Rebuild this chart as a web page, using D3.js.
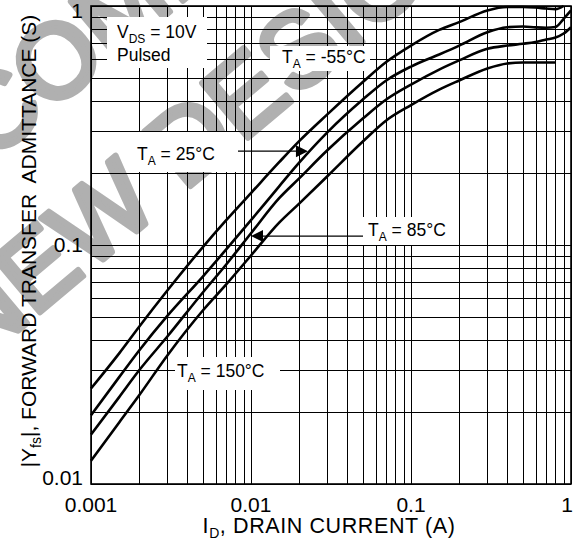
<!DOCTYPE html>
<html>
<head>
<meta charset="utf-8">
<script src="https://cdn.jsdelivr.net/npm/d3@7"></script>
<style>
  body { margin: 0; background: #fff; }
  svg text { font-family: "Liberation Sans", Arial, sans-serif; white-space: pre; }
</style>
</head>
<body>
<svg id="chart" width="577" height="544"></svg>
<script>
// drain current (A)
const current = [0.001, 0.0015, 0.002, 0.003, 0.005, 0.007, 0.01, 0.015, 0.02, 0.03, 0.05, 0.07,
                 0.1, 0.15, 0.2, 0.3, 0.4, 0.5, 0.6, 0.7, 0.8, 0.9, 1];

// |Yfs| (S) for each ambient temperature
const yfsM55 = [0.0251, 0.0352, 0.0455, 0.0645, 0.0980, 0.127, 0.165, 0.222, 0.272, 0.352, 0.481, 0.583,
                0.683, 0.794, 0.856, 0.958, 0.99, 0.99, 0.985, 0.976, 0.97, 1.0];
const yfs25  = [0.0194, 0.0280, 0.0362, 0.0505, 0.0738, 0.0958, 0.127, 0.176, 0.221, 0.296, 0.406, 0.488,
                0.558, 0.627, 0.683, 0.777, 0.815, 0.821, 0.814, 0.811, 0.817, 0.884, 0.958];
const yfs85  = [0.0161, 0.0231, 0.0299, 0.0414, 0.0633, 0.0829, 0.112, 0.157, 0.190, 0.249, 0.338, 0.406,
                0.469, 0.542, 0.592, 0.662, 0.683, 0.695, 0.707, 0.724, 0.738, 0.767, 0.815];
const yfs150 = [0.0125, 0.0181, 0.0235, 0.0345, 0.0532, 0.0684, 0.0904, 0.124, 0.149, 0.194, 0.271, 0.332,
                0.385, 0.447, 0.488, 0.548, 0.575, 0.580, 0.580, 0.580, 0.580];

const xTickLabels = ['0.001', '0.01', '0.1', '1'];
const yTickLabels = ['0.01', '0.1', '1'];

const W = 577, H = 544;
const margin = { top: 6, right: 6, bottom: 60, left: 91 };

const svg = d3.select('#chart');

const x = d3.scaleLog().domain([0.001, 1]).range([margin.left, W - margin.right]);
const y = d3.scaleLog().domain([0.01, 1]).range([H - margin.bottom, margin.top]);

// watermark, sits behind the grid
const wm = svg.append('g')
  .attr('fill', '#b0b0b0')
  .attr('stroke', '#b0b0b0')
  .attr('stroke-width', 6)
  .attr('stroke-linejoin', 'round')
  .attr('font-size', 104);
wm.append('text')
  .attr('transform', 'translate(-24,366) rotate(-40)')
  .text('NEW DESIGN');
wm.append('text')
  .attr('transform', 'translate(-120,255) rotate(-40)')
  .text('RECOMMENDED FOR');

// grid
const grid = svg.append('g').attr('stroke', '#000').attr('stroke-width', 1);
grid.selectAll('.vx')
  .data(x.ticks())
  .join('line')
  .attr('x1', d => Math.round(x(d)) + 0.5)
  .attr('x2', d => Math.round(x(d)) + 0.5)
  .attr('y1', y(0.01))
  .attr('y2', y(1));
grid.selectAll('.hy')
  .data(y.ticks())
  .join('line')
  .attr('y1', d => Math.round(y(d)) + 0.5)
  .attr('y2', d => Math.round(y(d)) + 0.5)
  .attr('x1', x(0.001))
  .attr('x2', x(1));

svg.append('rect')
  .attr('x', x(0.001))
  .attr('y', y(1))
  .attr('width', x(1) - x(0.001))
  .attr('height', y(0.01) - y(1))
  .attr('fill', 'none')
  .attr('stroke', '#000')
  .attr('stroke-width', 1.6);

// label boxes (white, cover the grid)
function tLabel(px, py, temp) {
  const t = svg.append('text').attr('x', px).attr('y', py).attr('font-size', 17.5).attr('fill', '#000');
  t.append('tspan').text('T');
  t.append('tspan').attr('font-size', 12).attr('dy', 5).text('A');
  t.append('tspan').attr('dy', -5).text(' = ' + temp + '\u00B0C');
  return t;
}
function box(x0, y0, w, h) {
  svg.append('rect').attr('x', x0).attr('y', y0).attr('width', w).attr('height', h).attr('fill', '#fff');
}

box(107, 17, 100, 51);
box(270, 46, 100, 25);
box(133, 132, 105, 40);
box(363, 217, 88, 28);
box(175, 357, 105, 33);

// VDS label
const vds = svg.append('text').attr('x', 117).attr('y', 38).attr('font-size', 17.5);
vds.append('tspan').text('V');
vds.append('tspan').attr('font-size', 12).attr('dy', 5).text('DS');
vds.append('tspan').attr('dy', -5).text(' = 10V');
svg.append('text').attr('x', 117).attr('y', 61).attr('font-size', 17.5).text('Pulsed');

tLabel(282, 63, '-55');
tLabel(137, 160, '25');
tLabel(368, 236, '85');
tLabel(177, 377, '150');

// leaders + arrowheads pointing at the curves
const tip25 = [x(0.0227), y(0.247)];
const tip85 = [x(0.01), y(0.109)];
svg.append('line').attr('x1', 238).attr('x2', tip25[0] - 8).attr('y1', tip25[1]).attr('y2', tip25[1])
  .attr('stroke', '#000').attr('stroke-width', 1.2);
svg.append('path')
  .attr('d', `M${tip25[0]},${tip25[1]} l-12,-6 l0,12 z`)
  .attr('fill', '#000');
svg.append('line').attr('x1', tip85[0] + 8).attr('x2', 363).attr('y1', tip85[1]).attr('y2', tip85[1])
  .attr('stroke', '#000').attr('stroke-width', 1.2);
svg.append('path')
  .attr('d', `M${tip85[0]},${tip85[1]} l12,-6 l0,12 z`)
  .attr('fill', '#000');

// curves
const line = d3.line()
  .x(d => x(d[0]))
  .y(d => y(d[1]))
  .curve(d3.curveMonotoneX);

[yfsM55, yfs25, yfs85, yfs150].forEach((vals) => {
  svg.append('path')
    .datum(vals.map((v, i) => [current[i], v]))
    .attr('d', line)
    .attr('fill', 'none')
    .attr('stroke', '#000')
    .attr('stroke-width', 2.6)
    .attr('stroke-linejoin', 'round');
});

// tick labels
const axisFont = 21;
svg.selectAll('.xt')
  .data(xTickLabels)
  .join('text')
  .attr('x', d => x(+d))
  .attr('y', 512)
  .attr('text-anchor', (d, i) => i === xTickLabels.length - 1 ? 'end' : 'middle')
  .attr('dx', (d, i) => i === xTickLabels.length - 1 ? 2 : 0)
  .attr('font-size', axisFont)
  .text(d => d);

svg.selectAll('.yt')
  .data(yTickLabels)
  .join('text')
  .attr('x', 83)
  .attr('y', d => y(+d))
  .attr('dy', d => +d === 1 ? 12 : (+d === 0.01 ? 1 : 7))
  .attr('text-anchor', 'end')
  .attr('font-size', axisFont)
  .text(d => d);

// axis titles
const xt = svg.append('text')
  .attr('x', 329)
  .attr('y', 533)
  .attr('text-anchor', 'middle')
  .attr('font-size', 21.5)
  .attr('letter-spacing', 0.6);
xt.append('tspan').text('I');
xt.append('tspan').attr('font-size', 14).attr('dy', 5).text('D');
xt.append('tspan').attr('dy', -5).text(', DRAIN CURRENT (A)');

const yt = svg.append('text')
  .attr('transform', `translate(36,${(y(0.01) + y(1)) / 2 - 4}) rotate(-90)`)
  .attr('text-anchor', 'middle')
  .attr('font-size', 21);
yt.append('tspan').text('|Y');
yt.append('tspan').attr('font-size', 14).attr('dy', 5).text('fs');
yt.append('tspan').attr('dy', -5).text('|, FORWARD TRANSFER  ADMITTANCE (S)');
</script>
</body>
</html>
